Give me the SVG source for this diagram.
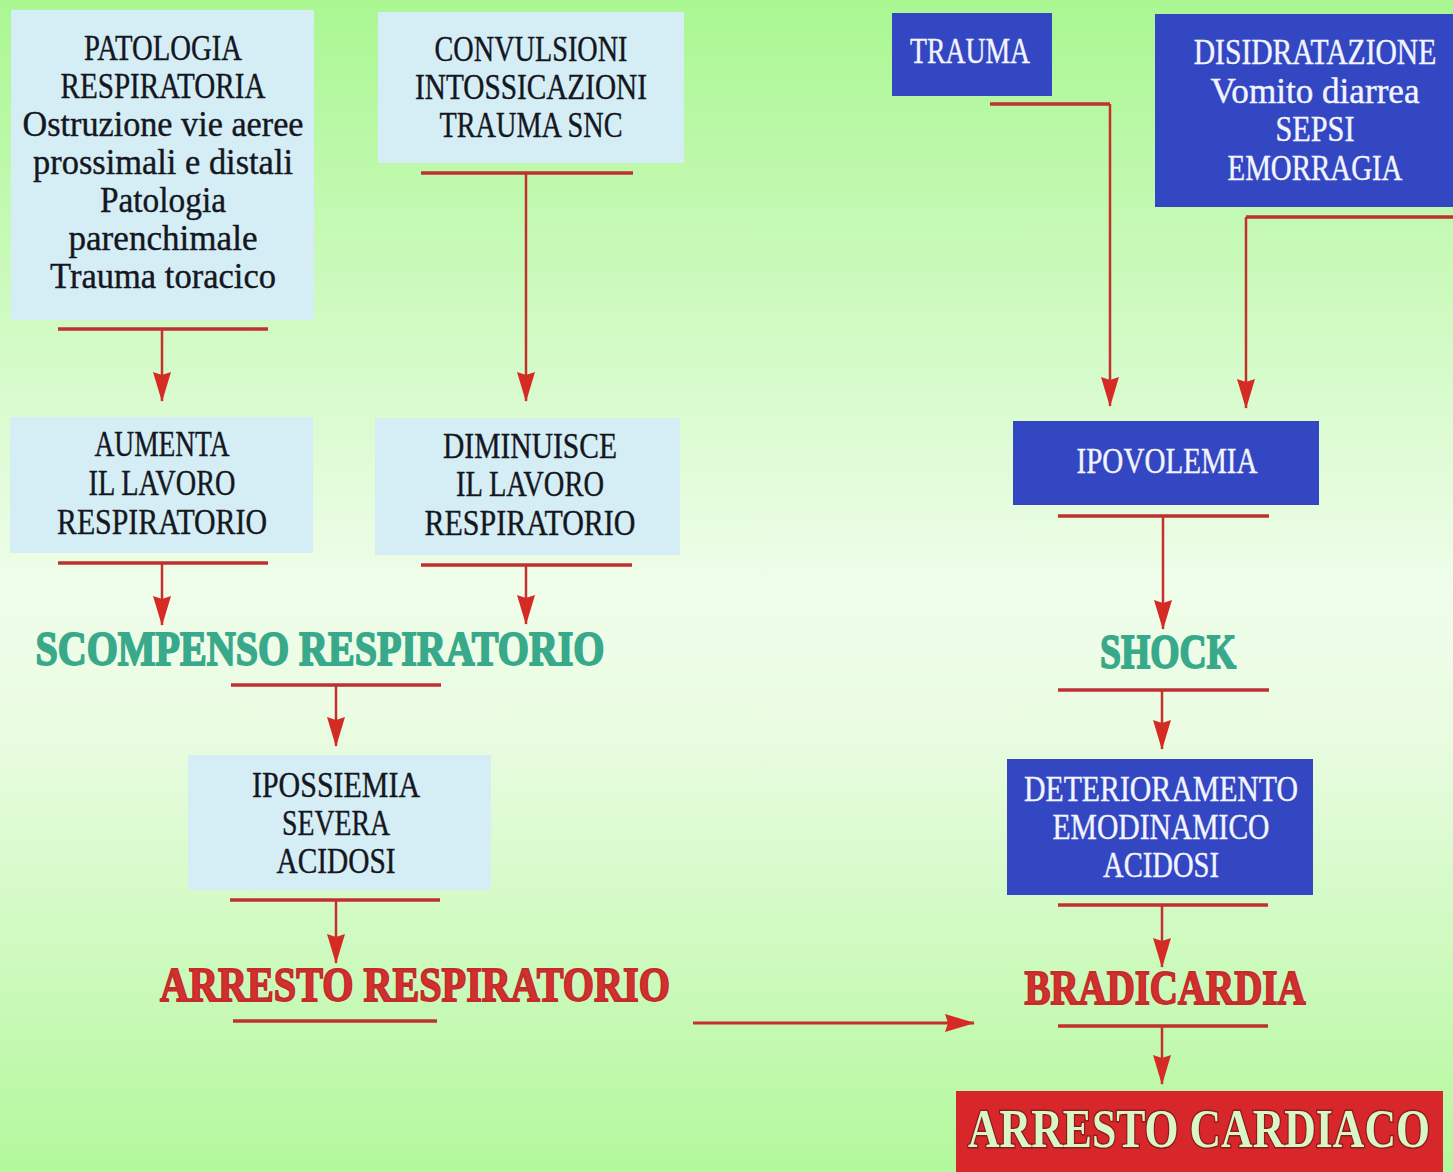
<svg xmlns="http://www.w3.org/2000/svg" width="1453" height="1172" viewBox="0 0 1453 1172">
<defs>
<linearGradient id="bg" x1="0" y1="0" x2="0" y2="1">
<stop offset="0" stop-color="#aaf792"/>
<stop offset="0.5" stop-color="#effdea"/>
<stop offset="0.62" stop-color="#eafce2"/>
<stop offset="1" stop-color="#b3f89c"/>
</linearGradient>
<marker id="ah" markerUnits="userSpaceOnUse" viewBox="0 0 30 18" markerWidth="30" markerHeight="18" refX="29" refY="9" orient="auto">
<path d="M0,0 L30,9 L0,18 L3,9 z" fill="#d62b24"/>
</marker>
<style>
.lb{fill:#d5eef6}
.bb{fill:#3447c2}
.t{font-family:"Liberation Serif",serif;font-size:36px;text-anchor:middle;fill:#15171f;stroke:#15171f;stroke-width:0.4}
.tw{font-family:"Liberation Serif",serif;font-size:36px;text-anchor:middle;fill:#f2f4ff;stroke:#f2f4ff;stroke-width:0.4}
.hg{font-family:"Liberation Serif",serif;font-weight:bold;font-size:48px;text-anchor:middle;fill:#38a98a;stroke:#38a98a;stroke-width:1.8}
.hr{font-family:"Liberation Serif",serif;font-weight:bold;font-size:49px;text-anchor:middle;fill:#d2302e;stroke:#c42a2a;stroke-width:1.8}
.hc{font-family:"Liberation Serif",serif;font-weight:bold;font-size:54px;text-anchor:middle;fill:#d9f7c6;stroke:#8a1c1c;stroke-width:3;paint-order:stroke}
.bar{stroke:#bf3131;stroke-width:3.5;fill:none}
.ln{stroke:#c4302c;stroke-width:2.5;fill:none;marker-end:url(#ah)}
</style>
</defs>
<rect width="1453" height="1172" fill="url(#bg)"/>

<g id="patologia-respiratoria">
<rect class="lb" x="11" y="10" width="303" height="310"/>
<text class="t" x="163" y="60" textLength="158" lengthAdjust="spacingAndGlyphs">PATOLOGIA</text>
<text class="t" x="163" y="98" textLength="205" lengthAdjust="spacingAndGlyphs">RESPIRATORIA</text>
<text class="t" x="163" y="136" textLength="281" lengthAdjust="spacingAndGlyphs">Ostruzione vie aeree</text>
<text class="t" x="163" y="174" textLength="260" lengthAdjust="spacingAndGlyphs">prossimali e distali</text>
<text class="t" x="163" y="212" textLength="126" lengthAdjust="spacingAndGlyphs">Patologia</text>
<text class="t" x="163" y="250" textLength="189" lengthAdjust="spacingAndGlyphs">parenchimale</text>
<text class="t" x="163" y="288" textLength="226" lengthAdjust="spacingAndGlyphs">Trauma toracico</text>
</g>

<g id="convulsioni">
<rect class="lb" x="378" y="12" width="306" height="151"/>
<text class="t" x="531" y="61" textLength="193" lengthAdjust="spacingAndGlyphs">CONVULSIONI</text>
<text class="t" x="531" y="99" textLength="232" lengthAdjust="spacingAndGlyphs">INTOSSICAZIONI</text>
<text class="t" x="531" y="137" textLength="183" lengthAdjust="spacingAndGlyphs">TRAUMA SNC</text>
</g>

<g id="aumenta">
<rect class="lb" x="10" y="417" width="303" height="136"/>
<text class="t" x="162" y="456" textLength="135" lengthAdjust="spacingAndGlyphs">AUMENTA</text>
<text class="t" x="162" y="495" textLength="147" lengthAdjust="spacingAndGlyphs">IL LAVORO</text>
<text class="t" x="162" y="534" textLength="210" lengthAdjust="spacingAndGlyphs">RESPIRATORIO</text>
</g>

<g id="diminuisce">
<rect class="lb" x="375" y="418" width="305" height="137"/>
<text class="t" x="530" y="458" textLength="174" lengthAdjust="spacingAndGlyphs">DIMINUISCE</text>
<text class="t" x="530" y="496" textLength="148" lengthAdjust="spacingAndGlyphs">IL LAVORO</text>
<text class="t" x="530" y="535" textLength="211" lengthAdjust="spacingAndGlyphs">RESPIRATORIO</text>
</g>

<g id="scompenso">
<text class="hg" x="320" y="665" textLength="569" lengthAdjust="spacingAndGlyphs">SCOMPENSO RESPIRATORIO</text>
</g>

<g id="ipossiemia">
<rect class="lb" x="188" y="755" width="303" height="135"/>
<text class="t" x="336" y="797" textLength="168" lengthAdjust="spacingAndGlyphs">IPOSSIEMIA</text>
<text class="t" x="336" y="835" textLength="108" lengthAdjust="spacingAndGlyphs">SEVERA</text>
<text class="t" x="336" y="873" textLength="119" lengthAdjust="spacingAndGlyphs">ACIDOSI</text>
</g>

<g id="arresto-respiratorio">
<text class="hr" x="415" y="1001" textLength="510" lengthAdjust="spacingAndGlyphs">ARRESTO RESPIRATORIO</text>
</g>

<g id="trauma">
<rect class="bb" x="892" y="13" width="160" height="83"/>
<text class="tw" x="970" y="63" textLength="120" lengthAdjust="spacingAndGlyphs">TRAUMA</text>
</g>

<g id="disidratazione">
<rect class="bb" x="1155" y="14" width="298" height="193"/>
<text class="tw" transform="translate(1315,64) scale(0.72,1)" x="0" y="0" textLength="337" lengthAdjust="spacingAndGlyphs">DISIDRATAZIONE</text>
<text class="tw" x="1315" y="103" textLength="209" lengthAdjust="spacingAndGlyphs">Vomito diarrea</text>
<text class="tw" x="1315" y="141" textLength="79" lengthAdjust="spacingAndGlyphs">SEPSI</text>
<text class="tw" x="1315" y="180" textLength="175" lengthAdjust="spacingAndGlyphs">EMORRAGIA</text>
</g>

<g id="ipovolemia">
<rect class="bb" x="1013" y="421" width="306" height="84"/>
<text class="tw" x="1167" y="473" textLength="181" lengthAdjust="spacingAndGlyphs">IPOVOLEMIA</text>
</g>

<g id="shock">
<text class="hg" x="1168" y="668" textLength="136" lengthAdjust="spacingAndGlyphs">SHOCK</text>
</g>

<g id="deterioramento">
<rect class="bb" x="1007" y="759" width="306" height="136"/>
<text class="tw" x="1161" y="801" textLength="274" lengthAdjust="spacingAndGlyphs">DETERIORAMENTO</text>
<text class="tw" x="1161" y="839" textLength="217" lengthAdjust="spacingAndGlyphs">EMODINAMICO</text>
<text class="tw" x="1161" y="877" textLength="116" lengthAdjust="spacingAndGlyphs">ACIDOSI</text>
</g>

<g id="bradicardia">
<text class="hr" x="1165" y="1004" textLength="281" lengthAdjust="spacingAndGlyphs">BRADICARDIA</text>
</g>

<g id="arresto-cardiaco">
<rect x="956" y="1091" width="487" height="81" fill="#d8272a"/>
<text class="hc" transform="translate(1199,1147) scale(0.77,1)" x="0" y="0" textLength="600" lengthAdjust="spacingAndGlyphs">ARRESTO CARDIACO</text>
</g>

<g id="connectors">
<path class="bar" d="M58,329 H268"/>
<path class="ln" d="M162,329 V401"/>
<path class="bar" d="M421,173 H633"/>
<path class="ln" d="M526,173 V401"/>
<path class="bar" d="M58,563 H268"/>
<path class="ln" d="M162,563 V625"/>
<path class="bar" d="M421,565 H632"/>
<path class="ln" d="M526,565 V624"/>
<path class="bar" d="M231,685 H441"/>
<path class="ln" d="M336,685 V746"/>
<path class="bar" d="M230,900 H440"/>
<path class="ln" d="M336,900 V963"/>
<path class="bar" d="M233,1021 H437"/>
<path class="ln" d="M693,1023 H974" style="stroke-width:3"/>
<path class="bar" d="M990,104 H1110"/>
<path class="ln" d="M1110,104 V406"/>
<path class="bar" d="M1246,217 H1453"/>
<path class="ln" d="M1246,217 V408"/>
<path class="bar" d="M1058,516 H1269"/>
<path class="ln" d="M1163,516 V629"/>
<path class="bar" d="M1058,690 H1269"/>
<path class="ln" d="M1162,690 V749"/>
<path class="bar" d="M1058,905 H1268"/>
<path class="ln" d="M1162,905 V967"/>
<path class="bar" d="M1058,1026 H1268"/>
<path class="ln" d="M1162,1026 V1084"/>
</g>
</svg>
